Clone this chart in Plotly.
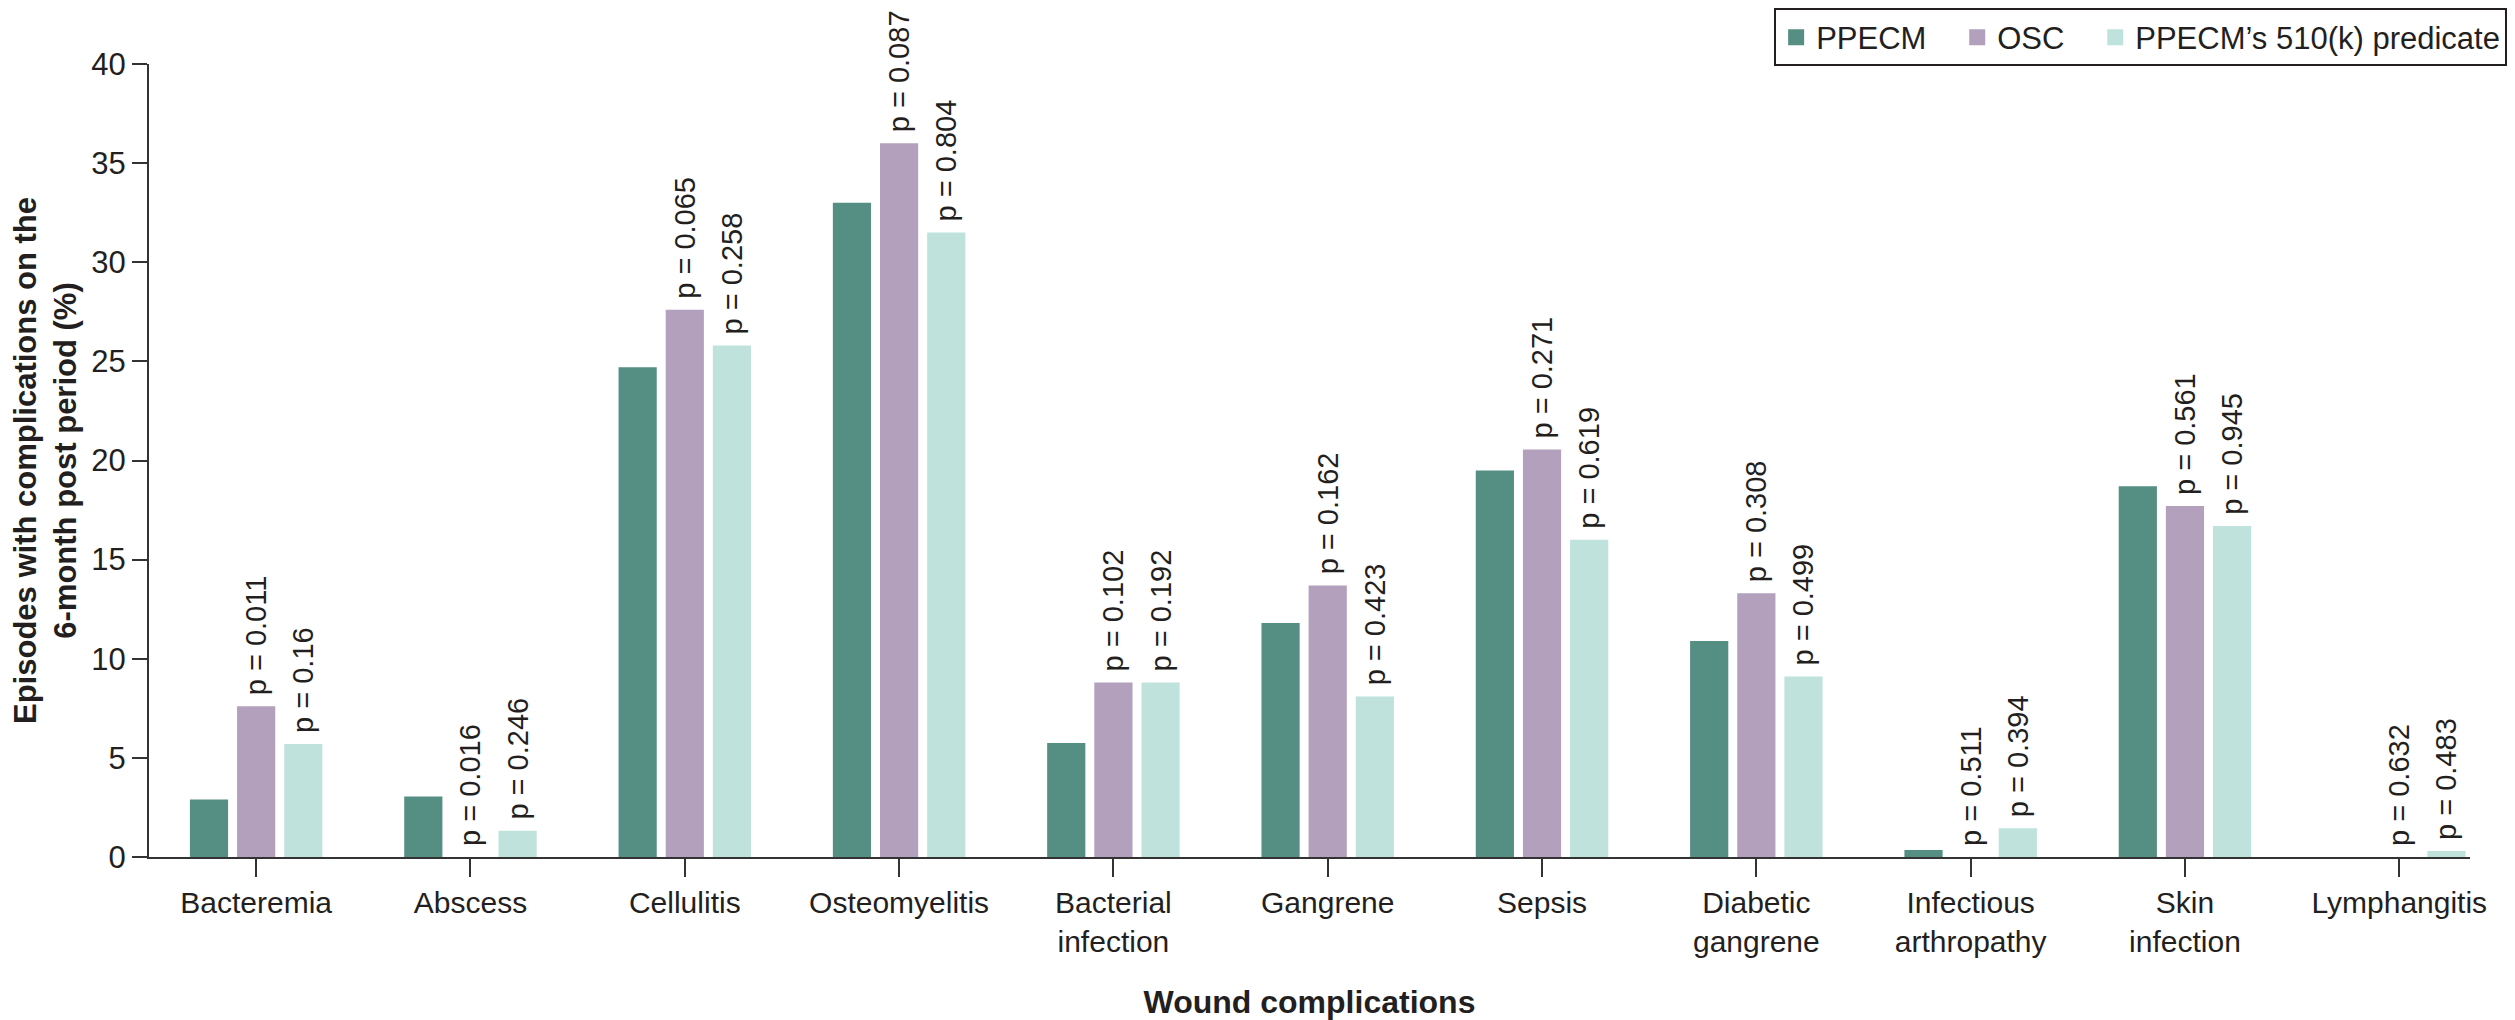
import plotly.graph_objects as go

categories = ["Bacteremia", "Abscess", "Cellulitis", "Osteomyelitis", "Bacterial<br>infection",
              "Gangrene", "Sepsis", "Diabetic<br>gangrene", "Infectious<br>arthropathy",
              "Skin<br>infection", "Lymphangitis"]
series_names = ["PPECM", "OSC", "PPECM\u2019s 510(k) predicate"]
ppecm = [2.9, 3.05, 24.7, 33.0, 5.75, 11.8, 19.5, 10.9, 0.35, 18.7, 0]
osc = [7.6, 0, 27.6, 36.0, 8.8, 13.7, 20.55, 13.3, 0, 17.7, 0]
pred = [5.7, 1.33, 25.8, 31.5, 8.8, 8.1, 16.0, 9.1, 1.45, 16.7, 0.3]
p_osc = ["p = 0.011", "p = 0.016", "p = 0.065", "p = 0.087", "p = 0.102", "p = 0.162",
         "p = 0.271", "p = 0.308", "p = 0.511", "p = 0.561", "p = 0.632"]
p_pred = ["p = 0.16", "p = 0.246", "p = 0.258", "p = 0.804", "p = 0.192", "p = 0.423",
          "p = 0.619", "p = 0.499", "p = 0.394", "p = 0.945", "p = 0.483"]
y_ticks = [0, 5, 10, 15, 20, 25, 30, 35, 40]
colors = ["#558e82", "#b3a0bd", "#bfe3dc"]

FONT = "Liberation Sans, Arial, Helvetica, sans-serif"
TXT = "#231f20"
NB = "\u00a0"
PFONT = dict(size=29, color=TXT, family=FONT)

fig = go.Figure()
fig.add_trace(go.Bar(name=series_names[0], x=categories, y=ppecm, marker_color=colors[0],
                     marker_line_width=0, showlegend=False))
fig.add_trace(go.Bar(name=series_names[1], x=categories, y=osc, marker_color=colors[1],
                     marker_line_width=0, text=[NB + t for t in p_osc],
                     textposition="outside", textangle=-90, constraintext="none",
                     cliponaxis=False, textfont=PFONT, showlegend=False))
fig.add_trace(go.Bar(name=series_names[2], x=categories, y=pred, marker_color=colors[2],
                     marker_line_width=0, text=[NB + t for t in p_pred],
                     textposition="outside", textangle=-90, constraintext="none",
                     cliponaxis=False, textfont=PFONT, showlegend=False))

# legend entries (larger square swatches)
legend_labels = [series_names[0] + NB * 3, series_names[1] + NB * 3, series_names[2]]
for name, col in zip(legend_labels, colors):
    fig.add_trace(go.Scatter(name=name, x=[None], y=[None], mode="markers",
                             marker=dict(symbol="square", size=24, color=col),
                             showlegend=True, hoverinfo="skip"))

fig.update_layout(
    width=2515, height=1020,
    margin=dict(l=149, r=45, t=64, b=163, autoexpand=False),
    paper_bgcolor="white", plot_bgcolor="white",
    barmode="group", bargap=0.34, bargroupgap=0.19,
    font=dict(family=FONT, color=TXT, size=30),
    showlegend=True,
    legend=dict(orientation="h", x=1.016, xanchor="right", y=1.07, yanchor="top",
                bordercolor="#231f20", borderwidth=2, bgcolor="white",
                font=dict(size=31, family=FONT, color=TXT), traceorder="normal",
                itemsizing="trace", itemwidth=30),
    xaxis=dict(range=[-0.5, 10.33], showline=True, linecolor="#333333", linewidth=2,
               ticks="outside", ticklen=18, tickwidth=2, tickcolor="#333333",
               tickfont=dict(size=30, family=FONT, color=TXT),
               title=dict(text="<b>Wound complications</b>", standoff=34,
                          font=dict(size=32, family=FONT, color=TXT)),
               showgrid=False, zeroline=False, automargin=False),
    yaxis=dict(range=[0, 40], tickvals=y_ticks, showline=True, linecolor="#333333",
               linewidth=2, ticks="outside", ticklen=15, tickwidth=2, tickcolor="#333333",
               tickfont=dict(size=31, family=FONT, color=TXT),
               title=dict(text="<b>Episodes with complications on the<br>6-month post period (%)</b>",
                          standoff=5, font=dict(size=31, family=FONT, color=TXT)),
               showgrid=False, zeroline=False, automargin=False),
)

fig.write_html("out.html")
